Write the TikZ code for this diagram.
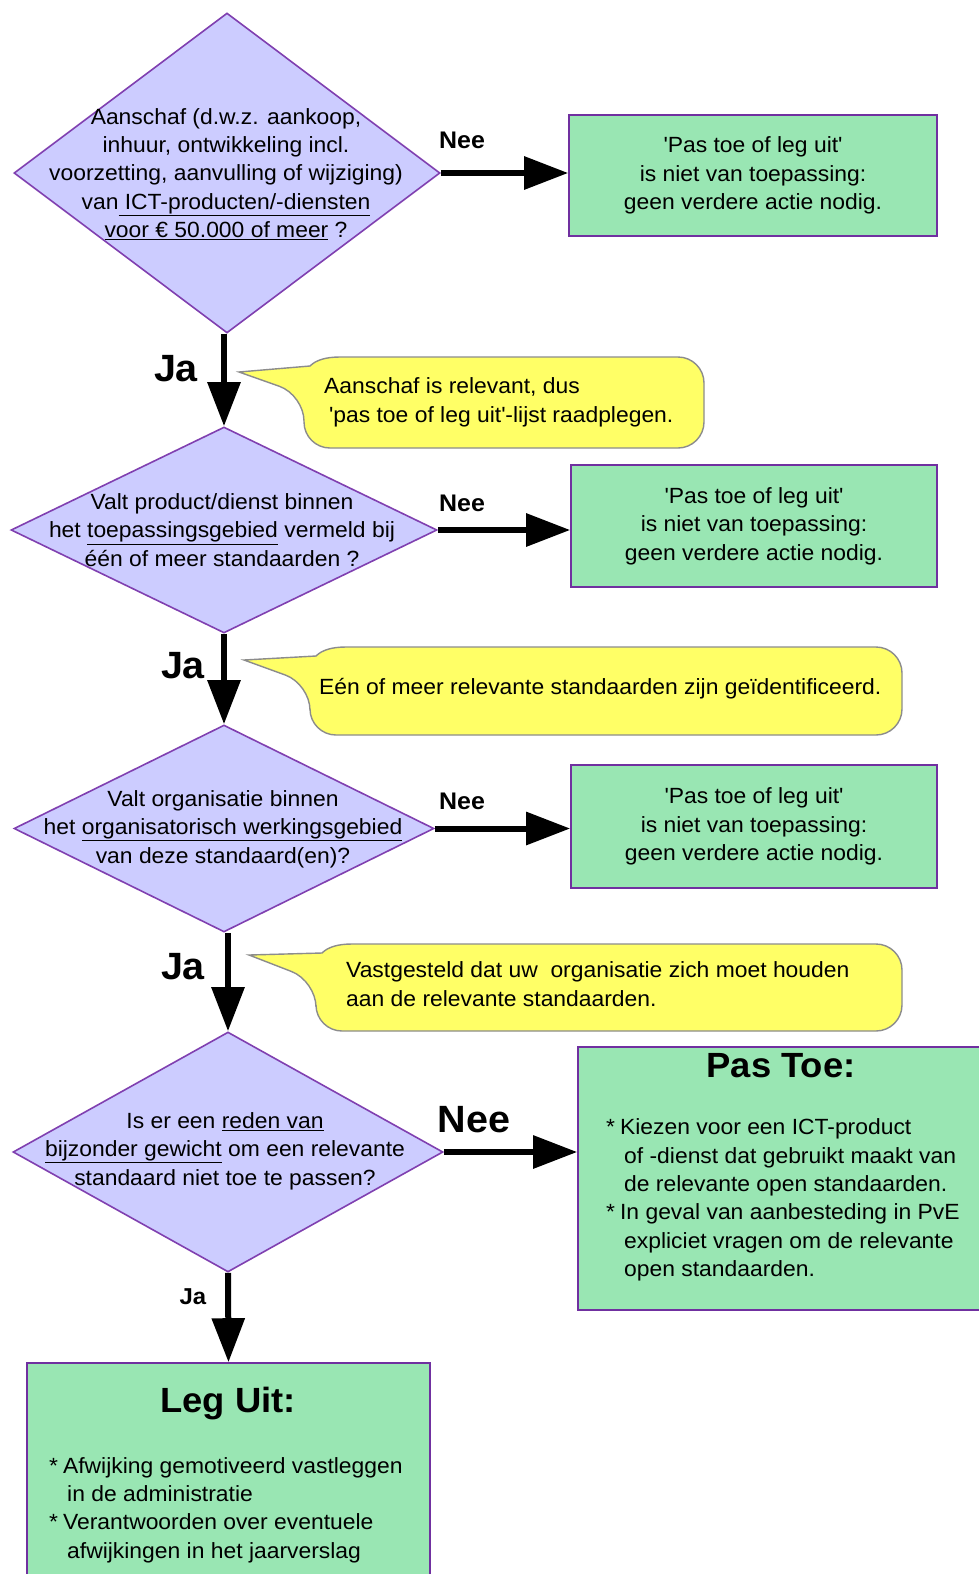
\documentclass[tikz,border=0pt]{standalone}
\usepackage{fontspec}
\setmainfont{Liberation Sans}[FakeStretch=1.04]
\usetikzlibrary{shapes.geometric,arrows.meta}
\definecolor{dfill}{RGB}{204,204,255}
\definecolor{dline}{RGB}{128,64,176}
\definecolor{gfill}{RGB}{153,230,179}
\definecolor{gline}{RGB}{112,48,160}
\definecolor{yfill}{RGB}{255,255,102}
\definecolor{yline}{RGB}{140,140,140}
\newcommand{\sq}{\textquotesingle}
\begin{document}
\begin{tikzpicture}[x=1pt,y=-1pt,
  txt/.style={font=\fontsize{22}{28.4}\selectfont, align=center, inner sep=0pt},
  ltxt/.style={font=\fontsize{22}{28.4}\selectfont, align=left, inner sep=0pt, anchor=west},
  decision/.style={shape=diamond, draw=dline, fill=dfill, line width=1.6pt, inner sep=0pt},
  result/.style={draw=gline, fill=gfill, line width=1.6pt, inner sep=0pt},
  nee/.style={font=\bfseries\fontsize{24}{28}\selectfont, inner sep=0pt},
  bignee/.style={font=\bfseries\fontsize{38}{40}\selectfont, inner sep=0pt},
  bigja/.style={font=\bfseries\fontsize{38}{40}\selectfont, inner sep=0pt},
  smallja/.style={font=\bfseries\fontsize{23}{26}\selectfont, inner sep=0pt},
  title/.style={font=\bfseries\fontsize{35}{38}\selectfont, inner sep=0pt},
  arr/.style={line width=6pt, -{Triangle[length=44pt,width=32pt]}},
  callout/.style={draw=yline, fill=yfill, line width=1.4pt}
]
\useasboundingbox (0,0) rectangle (979,1574);
\fill[white] (0,0) rectangle (979,1574);
\clip (0,0) rectangle (979,1574);

% ---- decisions
\node[decision, minimum width=426pt, minimum height=320pt] (d1) at (227,173) {};
\node[txt] (t1) at (226,174) {Aanschaf (d.w.z. aankoop,\\ inhuur, ontwikkeling incl.\\ voorzetting, aanvulling of wijziging)\\ van\underline{\ ICT-producten/-diensten}\\ \underline{voor € 50.000 of meer} ?};

\node[decision, minimum width=426pt, minimum height=206pt] (d2) at (224,530) {};
\node[txt] (t2) at (222,530) {Valt product/dienst binnen\\ het \underline{toepassingsgebied} vermeld bij\\ één of meer standaarden ?};

\node[decision, minimum width=420pt, minimum height=207pt] (d3) at (224,828.5) {};
\node[txt] (t3) at (223,829) {Valt organisatie binnen\\ het \underline{organisatorisch werkingsgebied}\\ van deze standaard(en)?};

\node[decision, minimum width=430pt, minimum height=240pt] (d4) at (228,1152) {};
\node[txt] (t4) at (225,1151) {Is er een \underline{reden van}\\ \underline{bijzonder gewicht} om een relevante\\ standaard niet toe te passen?};

% ---- result boxes
\node[result, txt, minimum width=368pt, minimum height=121pt] (b1) at (753,175.5) {\sq Pas toe of leg uit\sq\\ is niet van toepassing:\\ geen verdere actie nodig.};
\node[result, txt, minimum width=366pt, minimum height=122pt] (b2) at (754,526) {\sq Pas toe of leg uit\sq\\ is niet van toepassing:\\ geen verdere actie nodig.};
\node[result, txt, minimum width=366pt, minimum height=123pt] (b3) at (754,826.5) {\sq Pas toe of leg uit\sq\\ is niet van toepassing:\\ geen verdere actie nodig.};
\node[result, minimum width=414pt, minimum height=263pt] (b4) at (785,1178.5) {};
\node[title] (b4t) at (781,1066) {Pas Toe:};
\node[ltxt] (b4l) at (606,1200) {*\hspace{5pt}Kiezen voor een ICT-product\\ \hspace*{18pt}of -dienst dat gebruikt maakt van\\ \hspace*{18pt}de relevante open standaarden.\\ *\hspace{5pt}In geval van aanbesteding in PvE\\ \hspace*{18pt}expliciet vragen om de relevante\\ \hspace*{18pt}open standaarden.};
\node[result, minimum width=403pt, minimum height=237pt] (b5) at (228.5,1481.5) {};
\node[title] (b5t) at (228,1404) {Leg Uit:};
\node[ltxt] (b5l) at (49,1510) {*\hspace{5pt}Afwijking gemotiveerd vastleggen\\ \hspace*{18pt}in de administratie\\ *\hspace{5pt}Verantwoorden over eventuele\\ \hspace*{18pt}afwijkingen in het jaarverslag};

% ---- callouts
\draw[callout] (239,372) -- (310,366) .. controls (316,360) and (326,357) .. (340,357) [rounded corners=26] -- (704,357) -- (704,448) -- (304,448) -- (304,395) [sharp corners] -- cycle;
\node[ltxt] (c1) at (324,402.5) {Aanschaf is relevant, dus\\ \hspace*{5pt}\sq pas toe of leg uit\sq-lijst raadplegen.};

\draw[callout] (244,660) -- (316,656) .. controls (322,650) and (332,647) .. (346,647) [rounded corners=26] -- (902,647) -- (902,735) -- (310,735) -- (310,684) [sharp corners] -- cycle;
\node[ltxt] (c2) at (319,689) {Eén of meer relevante standaarden zijn geïdentificeerd.};

\draw[callout] (249,955) -- (322,953) .. controls (328,947) and (338,944) .. (352,944) [rounded corners=26] -- (902,944) -- (902,1031) -- (316,1031) -- (316,981) [sharp corners] -- cycle;
\node[ltxt] (c3) at (346,984) {Vastgesteld dat uw\ \ organisatie zich moet houden\\ aan de relevante standaarden.};

% ---- connectors
\draw[arr] (d1.east) -- (d1.east -| b1.west);
\draw[arr] (d2.east) -- (d2.east -| b2.west);
\draw[arr] (d3.east) -- (d3.east -| b3.west);
\draw[arr] (d4.east) -- (d4.east -| b4.west);
\draw[arr] (d2.north |- d1.south) -- (d2.north);
\draw[arr] (d2.south) -- (d3.north);
\draw[arr] (d4.north |- d3.south) -- (d4.north);
\draw[arr] (d4.south) -- (b5.north);

% ---- labels
\node[nee] (n1) at (462,140) {Nee};
\node[nee] (n2) at (462,503) {Nee};
\node[nee] (n3) at (462,801) {Nee};
\node[bignee] (n4) at (474,1120) {Nee};
\node[bigja] (j1) at (176,369) {Ja};
\node[bigja] (j2) at (183,666) {Ja};
\node[bigja] (j3) at (183,967) {Ja};
\node[smallja] (j4) at (193,1297) {Ja};
\end{tikzpicture}
\end{document}
